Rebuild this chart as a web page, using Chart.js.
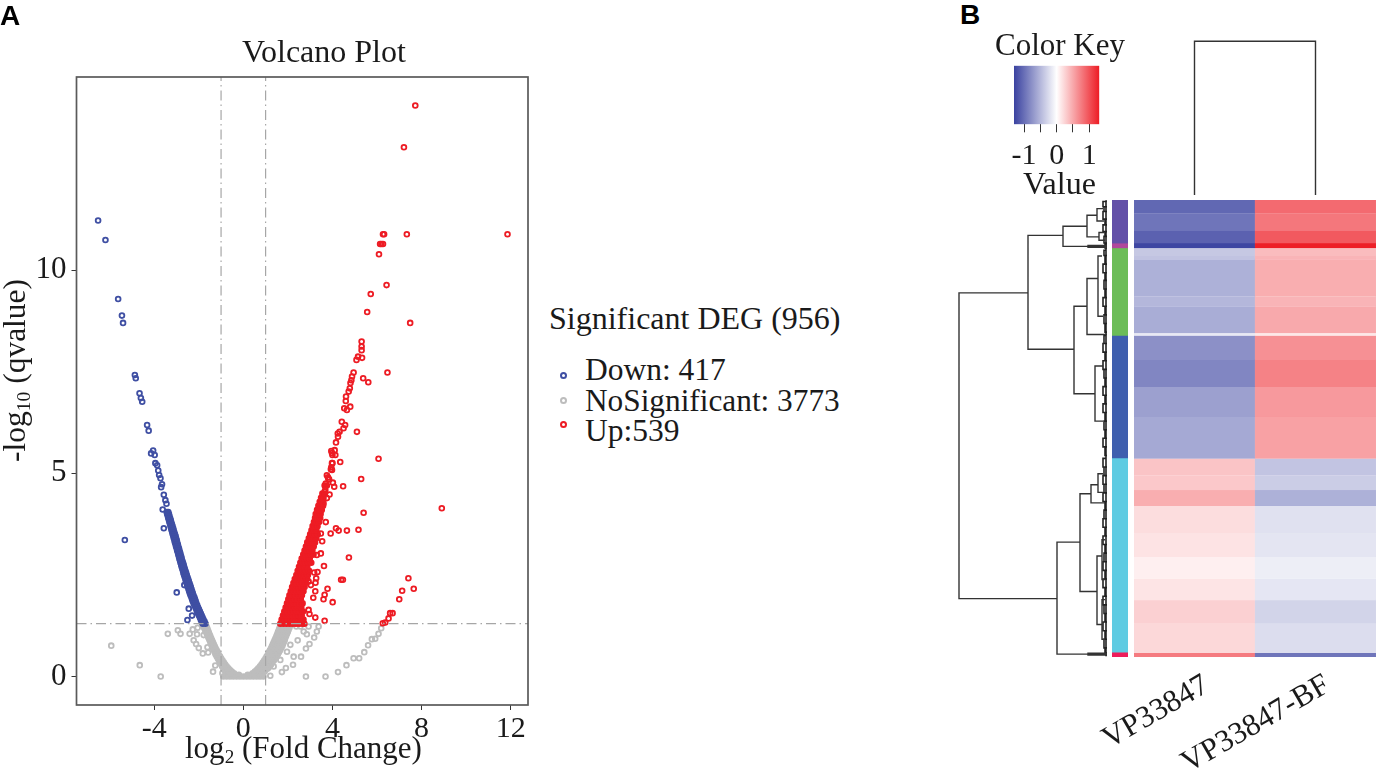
<!DOCTYPE html>
<html>
<head>
<meta charset="utf-8">
<title>Volcano plot and heatmap</title>
<script src="https://cdn.jsdelivr.net/npm/chart.js@4"></script>
<style>
  html, body { margin: 0; padding: 0; background: #fff; }
  #page { position: relative; width: 1376px; height: 772px; overflow: hidden; }
  canvas { position: absolute; }
  .txt { position: absolute; white-space: nowrap; line-height: 1; color: #1a1a1a; font-family: "Liberation Serif", serif; transform-origin: 0 0; }
  .txt sub { font-size: 0.62em; vertical-align: -0.28em; line-height: 0; }
  .dot { position: absolute; width: 3px; height: 3px; border-radius: 50%; border: 2px solid; }
</style>
</head>
<body>
<div id="page"></div>
<script>
// volcano plot data
const xTicks = [-4, 0, 4, 8, 12];
const yTicks = [0, 5, 10];
const foldCut = [-1, 1];
const qCut = 1.3;

// dense part of the down arm: [y, [x, x]]
const downRows = [
  [1.3,[-1.82,-1.7]],[1.35,[-1.87,-1.74]],[1.4,[-1.91,-1.79]],[1.45,[-1.95,-1.83]],[1.5,[-1.99,-1.87]],[1.55,[-2.03,-1.91]],
  [1.6,[-2.07,-1.95]],[1.65,[-2.11,-1.99]],[1.7,[-2.15,-2.03]],[1.75,[-2.19,-2.07]],[1.8,[-2.23,-2.11]],[1.85,[-2.27,-2.14]],
  [1.9,[-2.3,-2.17]],[1.95,[-2.33,-2.2]],[2.0,[-2.37,-2.24]],[2.05,[-2.4,-2.27]],[2.1,[-2.43,-2.3]],[2.15,[-2.46,-2.33]],
  [2.2,[-2.49,-2.36]],[2.25,[-2.52,-2.39]],[2.3,[-2.55,-2.42]],[2.35,[-2.58,-2.45]],[2.4,[-2.6,-2.48]],[2.45,[-2.63,-2.51]],
  [2.5,[-2.66,-2.54]],[2.55,[-2.69,-2.57]],[2.6,[-2.71,-2.6]],[2.65,[-2.74,-2.63]],[2.7,[-2.77,-2.66]],[2.75,[-2.79,-2.68]],
  [2.8,[-2.82,-2.71]],[2.85,[-2.84,-2.74]],[2.9,[-2.87,-2.77]],[2.95,[-2.89,-2.79]],[3.0,[-2.92,-2.82]],[3.05,[-2.94,-2.84]],
  [3.1,[-2.97,-2.87]],[3.15,[-2.99,-2.89]],[3.2,[-3.02,-2.92]],[3.25,[-3.04,-2.94]],[3.3,[-3.07,-2.97]],[3.35,[-3.09,-2.99]],
  [3.4,[-3.12,-3.02]],[3.45,[-3.14,-3.04]],[3.5,[-3.17,-3.07]],[3.55,[-3.19,-3.1]],[3.6,[-3.22,-3.13]],[3.65,[-3.24,-3.15]],
  [3.7,[-3.27,-3.18]],[3.75,[-3.29,-3.21]],[3.8,[-3.32,-3.24]],[3.85,[-3.34,-3.26]],[3.9,[-3.37,-3.29]],[3.95,[-3.39,-3.32]],
  [4.0,[-3.42,-3.34]],[4.05,[-3.44,-3.37]]
];
// single down genes: [x, y]
const downSingles = [
  [-6.52,11.22],[-6.19,10.74],[-5.62,9.29],[-5.45,8.88],[-5.4,8.7],[-4.87,7.42],[-4.83,7.34],[-4.66,6.97],[-4.6,6.85],
  [-4.54,6.76],[-4.32,6.19],[-4.25,6.05],[-4.05,5.56],[-4.14,5.49],[-3.98,5.45],[-3.95,5.25],[-3.87,5.2],[-3.82,5.07],
  [-3.78,4.96],[-3.72,4.88],[-3.65,4.73],[-3.69,4.66],[-3.57,4.47],[-3.5,4.34],[-3.45,4.25],[-3.62,4.11],
  [-5.32,3.36],[-3.57,3.65],[-2.99,2.07],[-2.45,1.67],[-2.3,1.5],[-2.51,1.39],[-2.65,2.25]
];
// dense part of the up arm: [y, [x, ...]]
const upRows = [
  [1.3,[1.66,1.8,1.94,2.08,2.22,2.36,2.5,2.64,2.74]],[1.4,[1.72,1.86,2,2.14,2.28,2.42,2.56,2.7]],[1.5,[1.78,1.92,2.06,2.2,2.34,2.48,2.62]],
  [1.6,[1.84,1.98,2.12,2.26,2.4,2.54,2.68]],[1.7,[1.9,2.04,2.18,2.32,2.46,2.6]],[1.8,[1.96,2.1,2.24,2.38,2.52,2.66]],
  [1.9,[2.02,2.16,2.3,2.44,2.58]],[2.0,[2.07,2.21,2.35,2.49,2.63]],[2.1,[2.13,2.27,2.41,2.55,2.7]],[2.2,[2.19,2.33,2.47,2.61,2.75]],
  [2.3,[2.25,2.39,2.53,2.67,2.8]],[2.4,[2.31,2.45,2.59,2.73,2.86]],[2.5,[2.38,2.5,2.63,2.76,2.9]],[2.6,[2.44,2.56,2.68,2.81,2.95]],
  [2.7,[2.5,2.62,2.74,2.87]],[2.8,[2.56,2.68,2.8,2.92,3.05]],[2.9,[2.62,2.74,2.86,2.98]],[3.0,[2.69,2.8,2.92,3.04,3.15]],
  [3.1,[2.75,2.86,2.98,3.1]],[3.2,[2.81,2.92,3.04,3.16]],[3.3,[2.87,2.98,3.1,3.22]],[3.4,[2.94,3.05,3.16,3.28]],[3.5,[3.0,3.11,3.22,3.34]],
  [3.6,[3.06,3.17,3.28]],[3.7,[3.11,3.22,3.33]],[3.8,[3.17,3.28,3.4]],[3.9,[3.22,3.33,3.45]],[4.0,[3.25,3.36,3.47]],[4.1,[3.31,3.42,3.52]],
  [4.2,[3.37,3.48,3.58]],[4.3,[3.43,3.53]],[4.4,[3.49,3.6]],[4.5,[3.55,3.66]],[4.7,[3.65,3.75]]
];
// single up genes: [x, y]
const upSingles = [
  [7.72,14.05],[7.21,13.02],[11.86,10.88],[7.34,10.88],[6.32,10.88],[6.27,10.88],[6.2,10.64],[6.27,10.64],[6.14,10.64],[6.09,10.39],
  [6.43,9.63],[5.72,9.41],[5.56,8.97],[7.49,8.7],[5.31,8.24],[5.31,8.12],[5.31,8.03],[5.33,7.84],[5.15,7.87],[5.08,7.79],[6.47,7.48],
  [4.95,7.48],[5.38,7.34],[5.61,7.24],[4.88,7.38],[4.85,7.29],[4.81,7.22],[4.78,7.09],[4.73,7.01],[4.61,6.89],[4.6,6.78],[4.8,6.64],
  [4.65,6.56],[4.53,6.6],[4.42,6.27],[4.57,6.19],[4.5,6.11],[4.32,6.02],[4.24,5.98],[4.25,5.9],[4.16,5.76],[4.1,5.57],[4.13,5.45],
  [3.98,5.25],[4.35,5.28],[3.98,5.08],[3.83,4.86],[4.02,4.77],[4.08,4.67],[3.68,4.59],[3.87,4.48],[3.75,4.39],[3.6,4.26],[3.45,4.1],
  [3.98,5.5],[4.0,5.45],[3.95,5.55],[4.0,5.25],[3.95,5.15],[3.93,5.1],[3.8,4.9],[3.85,4.85],[3.75,4.95],[3.7,4.75],[3.65,4.55],
  [8.91,4.14],[6.07,5.36],[5.1,6.02],[5.29,4.86],[4.48,4.68],[5.4,4.03],[5.17,3.61],[4.65,3.59],[4.28,3.59],[4.16,3.65],[3.92,3.52],
  [4.74,2.93],[4.39,2.38],[4.47,2.38],[3.62,2.72],[3.78,2.16],[3.23,2.1],[3.65,2.01],[3.6,1.9],[3.14,1.94],[4.01,1.83],[2.93,1.64],
  [2.97,1.54],[3.23,1.45],[3.65,1.37],[7.41,2.42],[7.65,2.16],[7.13,2.11],[7.0,1.9],[6.59,1.56],[6.7,1.56],[6.52,1.43],[6.37,1.33],
  [6.26,1.31],[3.48,3.03],[3.7,3.8],[3.54,3.33],[3.33,2.57],[3.18,2.56],[3.27,2.42],[3.24,2.31],[2.93,2.34],[3.03,2.25],[3.48,3.52],[3.3,2.99]
];
// not significant, dense part: [y, [x, ...]]
const nsRows = [
  [0,[-0.9,-0.75,-0.6,-0.45,-0.3,-0.15,0,0.15,0.3,0.45,0.6,0.75,0.9]],[0.04,[-0.8,-0.65,-0.5,-0.35,-0.2,0.2,0.35,0.5,0.65,0.8]],
  [0.08,[-0.7,-0.55,-0.42,0.42,0.55,0.7,0.85]],[0.12,[-0.8,-0.65,-0.52,0.52,0.65,0.8,0.95]],[0.16,[-0.85,-0.72,-0.6,0.6,0.72,0.85,1.0]],
  [0.2,[-0.9,-0.78,-0.67,0.67,0.8,0.95,1.1]],[0.25,[-0.95,-0.85,-0.75,0.75,0.9,1.05,1.2]],[0.3,[-1.0,-0.9,-0.82,0.82,0.95,1.1,1.25]],
  [0.35,[-1.05,-0.95,-0.88,0.88,1.02,1.17,1.3]],[0.4,[-1.1,-1.0,-0.94,0.94,1.08,1.22,1.38]],[0.45,[-1.15,-1.05,-1.0,1.0,1.14,1.28,1.42]],
  [0.5,[-1.2,-1.1,-1.05,1.05,1.2,1.35,1.5]],[0.55,[-1.25,-1.11,1.11,1.25,1.4,1.55]],[0.6,[-1.28,-1.15,1.15,1.3,1.45,1.6]],
  [0.65,[-1.32,-1.2,1.2,1.35,1.5,1.65]],[0.7,[-1.37,-1.25,1.25,1.4,1.55,1.7]],[0.75,[-1.4,-1.29,1.29,1.44,1.6,1.75]],
  [0.8,[-1.45,-1.33,1.33,1.48,1.63,1.78]],[0.85,[-1.48,-1.37,1.37,1.52,1.67,1.82]],[0.9,[-1.52,-1.41,1.41,1.56,1.71,1.86]],
  [0.95,[-1.56,-1.45,1.45,1.6,1.75,1.88]],[1.0,[-1.6,-1.49,1.49,1.63,1.78,1.92]],[1.05,[-1.64,-1.53,1.53,1.67,1.82,1.96]],
  [1.1,[-1.68,-1.56,1.56,1.7,1.85,2.0]],[1.15,[-1.72,-1.6,1.6,1.74,1.88,2.03]],[1.2,[-1.76,-1.63,1.63,1.77,1.92,2.07]],
  [1.25,[-1.8,-1.67,1.67,1.8,1.95,2.1]],[1.3,[-1.85,-1.7,1.7,1.84,1.98,2.12]]
];
// not significant, single genes: [x, y]
const nsSingles = [
  [-5.93,0.76],[-4.65,0.28],[-3.71,0],[-3.39,1.05],[-2.94,1.14],[-2.82,1.05],[-2.41,1.05],[-2.27,1.16],[-2.05,1.2],[-2.08,1.04],
  [-2.23,0.89],[-2.12,0.8],[-2.0,0.7],[-1.82,0.57],[-1.61,0.72],[-1.58,0.59],[-1.36,0.12],[-1.26,0.27],[-0.94,0.08],[-1.78,1.02],
  [2.81,0],[3.69,0],[4.25,0.11],[4.63,0.28],[4.95,0.45],[5.2,0.45],[5.43,0.6],[5.6,0.77],[5.77,0.92],[5.92,0.93],[6.07,1.05],[6.19,1.19],
  [1.21,0.02],[1.73,0.11],[1.91,0.21],[2.23,0.29],[2.59,0.49],[2.26,0.49],[2.81,0.69],[2.97,0.8],[3.18,0.96],[2.85,1.04],[2.93,1.23],
  [3.3,1.11],[3.38,1.23],[2.56,1.23],[2.38,1.23],[2.71,1.11],[2.44,0.89],[2.11,0.78],[1.96,0.61],[1.66,0.41],[1.36,0.25]
];

// heatmap data, one entry per horizontal band
const sampleNames = ['VP33847', 'VP33847-BF'];
const bandRows = [28,36,26,10,17,7,77,21,56,5,51,56,63,87,35,31,33,58,49,45,45,49,61,9];
const leftValues = [-1.16,-1.06,-1.21,-1.42,-0.42,-0.46,-0.6,-0.55,-0.63,-0.17,-0.85,-0.93,-0.73,-0.66,0.38,0.35,0.52,0.22,0.18,0.1,0.17,0.3,0.25,0.84];
const rightValues = [0.95,0.87,1.06,1.43,0.43,0.48,0.52,0.48,0.55,0.15,0.71,0.8,0.65,0.6,-0.45,-0.38,-0.6,-0.23,-0.2,-0.13,-0.19,-0.33,-0.26,-1.06];

// row cluster side bar
const clusterRows = [90,10,183,256,406,10];
const clusterColors = ['#6350a8','#b0489c','#6cbd58','#3f5fae','#5fcbe2','#ee1c5a'];

// color key
const keyRange = [-1.31, 1.31];
const keyTicks = [-1, -0.5, 0, 0.5, 1];

// column tree: x is the column index, y the merge height
const colTreeX = [0, 0, 1, 1];
const colTreeY = [0, 1, 1, 0];

// row tree: [height, rowA, rowB, height of child at A, height of child at B]
const rowMerges = [
  [148,194,833,79,50],[79,74,312,44,33],[44,55,97,20,19],[20,32,77,10,8],[10,18,44,4,3],[8,68,84,3,2],
  [19,95,99,0,0],[19,97,97,0,0],[33,222,405,20,12],[20,164,281,9,0],[9,117,243,5,4],[12,347,462,4,4],
  [50,715,949,27,19],[19,947,951,0,0],[19,949,949,0,0],[27,614,818,16,10],[16,595,633,9,2],[9,572,611,4,4],[10,744,887,5,5],[5,710,793,2,2],[5,835,918,2,2]
];
// small merges close to the leaves, the first one is the dark comb along the leaves
const leafMerges = [
  [1,2,952,0,0],
  [4,3,14,1,0],[3,14,24,1,0],[4,24,40,1,1],[2,40,52,0,0],[4,52,66,1,1],[2,66,76,0,0],[3,76,90,1,0],[2,92,100,0,0],
  [3,105,116,1,0],[2,118,134,1,0],[4,134,152,1,0],[2,152,168,1,0],[3,168,186,1,0],[2,186,204,1,0],[4,204,222,1,0],[2,222,240,1,0],
  [3,240,258,1,0],[2,258,276,1,0],[3,283,300,1,0],[4,300,318,1,0],[2,318,336,1,0],[4,336,354,1,0],[3,354,372,1,0],[2,372,390,1,0],
  [4,390,408,1,0],[2,408,426,1,0],[4,426,444,1,0],[2,444,462,1,0],[3,462,480,1,0],[2,480,498,1,0],[4,498,516,1,0],[2,516,534,1,0],
  [4,540,558,1,0],[3,558,576,1,0],[4,576,594,1,0],[3,594,612,1,0],[4,612,630,1,0],[2,630,648,1,0],[3,648,666,1,0],[4,666,684,1,0],
  [2,684,702,1,0],[4,702,720,1,0],[2,720,738,1,0],[3,738,756,1,0],[4,756,774,1,0],[2,774,792,1,0],[4,792,810,1,0],[2,810,828,1,0],
  [4,828,846,1,0],[3,846,864,1,0],[2,864,882,1,0],[4,882,900,1,0],[2,900,918,1,0],[3,918,936,1,0],[2,936,946,0,0]
];

const page = document.getElementById('page');

function makeCanvas(left, top, width, height) {
  const c = document.createElement('canvas');
  c.width = width;
  c.height = height;
  c.style.left = left + 'px';
  c.style.top = top + 'px';
  c.style.width = width + 'px';
  c.style.height = height + 'px';
  page.appendChild(c);
  return c;
}

// x is the left edge, baseline is the text baseline
function addText(html, x, baseline, size, extra) {
  const el = document.createElement('div');
  el.className = 'txt';
  el.innerHTML = html;
  el.style.fontSize = size + 'px';
  el.style.left = x + 'px';
  el.style.top = (baseline - size * 0.8375) + 'px';
  if (extra) Object.assign(el.style, extra);
  page.appendChild(el);
  return el;
}

function rowsToPoints(rows) {
  const pts = [];
  rows.forEach(r => r[1].forEach(x => pts.push({ x: x, y: r[0] })));
  return pts;
}
function pairsToPoints(pairs) {
  return pairs.map(p => ({ x: p[0], y: p[1] }));
}

// blue - white - red
function ramp(v) {
  const t = Math.min(1, Math.abs(v) / 1.45);
  const end = v < 0 ? [58, 66, 160] : [237, 28, 36];
  const c = end.map(e => Math.round(255 + (e - 255) * t));
  return `rgb(${c[0]},${c[1]},${c[2]})`;
}

const SERIF = 'Liberation Serif';
const BLUE = '#3f4fa3', RED = '#ed1c24', GREY = '#bdbdbd';

// singles are open rings, in the dense arms the rings run together so they get filled
function scatterSet(points, color, filled) {
  return {
    data: points, showLine: false,
    backgroundColor: 'transparent', borderColor: color,
    pointRadius: 2.4, pointBorderWidth: 1.8, pointBorderColor: color,
    pointBackgroundColor: filled ? color : 'transparent'
  };
}
function cutLine(points) {
  return {
    data: points, showLine: true, pointRadius: 0, borderWidth: 1.2,
    borderColor: '#a6a6a6', borderDash: [10, 4, 1.5, 4]
  };
}

// ---- A: volcano plot ----
const xMin = -7.49, xMax = 12.78, yMin = -0.7, yMax = 14.75;

const framePlugin = {
  id: 'frame',
  afterDatasetsDraw(chart) {
    const a = chart.chartArea, ctx = chart.ctx;
    ctx.save();
    ctx.strokeStyle = '#5a5a5a';
    ctx.lineWidth = 1.7;
    ctx.strokeRect(a.left, a.top, a.right - a.left, a.bottom - a.top);
    ctx.restore();
  }
};

new Chart(makeCanvas(0, 0, 540, 772), {
  type: 'scatter',
  data: {
    datasets: [
      cutLine([{ x: foldCut[0], y: yMin }, { x: foldCut[0], y: yMax }]),
      cutLine([{ x: foldCut[1], y: yMin }, { x: foldCut[1], y: yMax }]),
      cutLine([{ x: xMin, y: qCut }, { x: xMax, y: qCut }]),
      scatterSet(pairsToPoints(upSingles), RED, false),
      scatterSet(rowsToPoints(upRows), RED, true),
      scatterSet(pairsToPoints(downSingles), BLUE, false),
      scatterSet(rowsToPoints(downRows), BLUE, true),
      scatterSet(pairsToPoints(nsSingles), GREY, false),
      scatterSet(rowsToPoints(nsRows), GREY, true)
    ]
  },
  options: {
    responsive: false, animation: false,
    layout: { autoPadding: false, padding: { top: 77, right: 12, bottom: 0, left: 0 } },
    plugins: { legend: { display: false }, tooltip: { enabled: false } },
    scales: {
      x: {
        type: 'linear', min: xMin, max: xMax,
        afterBuildTicks: s => { s.ticks = xTicks.map(v => ({ value: v })); },
        afterFit: s => { s.height = 67; },
        grid: { drawOnChartArea: false, tickLength: 5, color: '#333' },
        border: { display: false },
        ticks: { font: { family: SERIF, size: 30 }, color: '#1a1a1a', padding: 1, maxRotation: 0, callback: v => String(v) }
      },
      y: {
        type: 'linear', min: yMin, max: yMax,
        afterBuildTicks: s => { s.ticks = yTicks.map(v => ({ value: v })); },
        afterFit: s => { s.width = 76.5; },
        grid: { drawOnChartArea: false, tickLength: 5, color: '#333' },
        border: { display: false },
        ticks: { font: { family: SERIF, size: 31 }, color: '#1a1a1a', padding: 5, callback: v => String(v) }
      }
    }
  },
  plugins: [framePlugin]
});

addText('A', 0, 25, 28, { fontFamily: '"Liberation Sans", sans-serif', fontWeight: 'bold', color: '#000' });
addText('Volcano Plot', 242, 62, 32);
addText('log<sub>2</sub> (Fold Change)', 185, 758, 31);
addText('-log<sub>10</sub> (qvalue)', 25 - 31.5 * 0.8375, 488, 31.5, { transform: 'rotate(-90deg)' });

addText('Significant DEG (956)', 549, 329, 32);
addText('Down: 417', 585, 380, 31.5);
addText('NoSignificant: 3773', 585, 411, 31.3);
addText('Up:539', 585, 441, 31.5);
[[375, BLUE], [400, GREY], [424, RED]].forEach(d => {
  const el = document.createElement('div');
  el.className = 'dot';
  el.style.left = '560px';
  el.style.top = (d[0] - 3.5) + 'px';
  el.style.borderColor = d[1];
  page.appendChild(el);
});

// ---- B: heatmap ----
const ROW_MAX = 955;

// bands, with the sample names as rotated ticks
new Chart(makeCanvas(1000, 0, 376, 772), {
  type: 'bar',
  data: {
    labels: sampleNames,
    datasets: bandRows.map((rows, i) => ({
      data: [rows, rows],
      backgroundColor: [ramp(leftValues[i]), ramp(rightValues[i])],
      borderColor: [ramp(leftValues[i]), ramp(rightValues[i])],
      borderWidth: 0.4,
      stack: 'heat', barPercentage: 1, categoryPercentage: 1
    }))
  },
  options: {
    responsive: false, animation: false,
    layout: { autoPadding: false, padding: { top: 200, right: 0, bottom: 0, left: 134 } },
    plugins: { legend: { display: false }, tooltip: { enabled: false } },
    scales: {
      x: {
        stacked: true,
        afterFit: s => { s.height = 115; },
        grid: { display: false, drawTicks: false },
        border: { display: false },
        ticks: { font: { family: SERIF, size: 31 }, color: '#1a1a1a', minRotation: 30, maxRotation: 30, padding: 10, labelOffset: 12 }
      },
      y: { stacked: true, display: false, reverse: true, min: 0, max: ROW_MAX }
    }
  }
});

// cluster side bar
new Chart(makeCanvas(1112, 200, 16, 457), {
  type: 'bar',
  data: {
    labels: ['cluster'],
    datasets: clusterRows.map((rows, i) => ({
      data: [rows], backgroundColor: clusterColors[i], stack: 'side', barPercentage: 1, categoryPercentage: 1
    }))
  },
  options: {
    responsive: false, animation: false,
    layout: { autoPadding: false, padding: 0 },
    plugins: { legend: { display: false }, tooltip: { enabled: false } },
    scales: {
      x: { stacked: true, display: false },
      y: { stacked: true, display: false, reverse: true, min: 0, max: ROW_MAX }
    }
  }
});

// row tree, each merge is a U shape, null breaks the line
function mergePath(merges) {
  const pts = [];
  merges.forEach(m => {
    pts.push({ x: m[3], y: m[1] }, { x: m[0], y: m[1] }, { x: m[0], y: m[2] }, { x: m[4], y: m[2] }, { x: null, y: null });
  });
  return pts;
}
function treeLine(points, width, color) {
  return { data: points, showLine: true, pointRadius: 0, borderWidth: width, borderColor: color || '#333', spanGaps: false, clip: false };
}
new Chart(makeCanvas(957, 200, 150, 457), {
  type: 'scatter',
  data: { datasets: [treeLine(mergePath(rowMerges), 1.4), treeLine(mergePath(leafMerges), 1.6, '#222')] },
  options: {
    responsive: false, animation: false,
    layout: { autoPadding: false, padding: 0 },
    plugins: { legend: { display: false }, tooltip: { enabled: false } },
    scales: {
      x: { type: 'linear', display: false, reverse: true, min: 0, max: 150 },
      y: { type: 'linear', display: false, reverse: true, min: 0, max: ROW_MAX }
    }
  }
});

// column tree
new Chart(makeCanvas(1134, 38, 242, 158), {
  type: 'scatter',
  data: { datasets: [treeLine(colTreeX.map((x, i) => ({ x: x, y: colTreeY[i] })), 1.4)] },
  options: {
    responsive: false, animation: false,
    layout: { autoPadding: false, padding: { top: 3.3, bottom: 1, left: 0, right: 0 } },
    plugins: { legend: { display: false }, tooltip: { enabled: false } },
    scales: {
      x: { type: 'linear', display: false, min: -0.5, max: 1.5 },
      y: { type: 'linear', display: false, min: 0, max: 1 }
    }
  }
});

// color key
new Chart(makeCanvas(1000, 60, 120, 120), {
  type: 'bar',
  data: {
    labels: ['key'],
    datasets: [{
      data: [keyRange],
      barPercentage: 1, categoryPercentage: 1,
      backgroundColor: c => {
        const a = c.chart.chartArea;
        if (!a) return ramp(0);
        const g = c.chart.ctx.createLinearGradient(a.left, 0, a.right, 0);
        g.addColorStop(0, ramp(keyRange[0] * 1.11));
        g.addColorStop(0.5, ramp(0));
        g.addColorStop(1, ramp(keyRange[1] * 1.11));
        return g;
      }
    }]
  },
  options: {
    indexAxis: 'y',
    responsive: false, animation: false,
    layout: { autoPadding: false, padding: { top: 5.7, right: 20.7, bottom: 0, left: 14 } },
    plugins: { legend: { display: false }, tooltip: { enabled: false } },
    scales: {
      x: {
        type: 'linear', min: keyRange[0], max: keyRange[1],
        afterBuildTicks: s => { s.ticks = keyTicks.map(v => ({ value: v })); },
        afterFit: s => { s.height = 55.7; },
        grid: { drawOnChartArea: false, tickLength: 8, color: '#333' },
        border: { display: false },
        ticks: {
          font: { family: SERIF, size: 30 }, color: '#1a1a1a', padding: 6, maxRotation: 0, autoSkip: false,
          callback: v => (Number.isInteger(v) ? String(v) : '')
        }
      },
      y: { display: false }
    }
  }
});

addText('B', 960, 24, 28, { fontFamily: '"Liberation Sans", sans-serif', fontWeight: 'bold', color: '#000' });
addText('Color Key', 995, 55, 31);
addText('Value', 1023, 194, 32);
</script>
</body>
</html>
